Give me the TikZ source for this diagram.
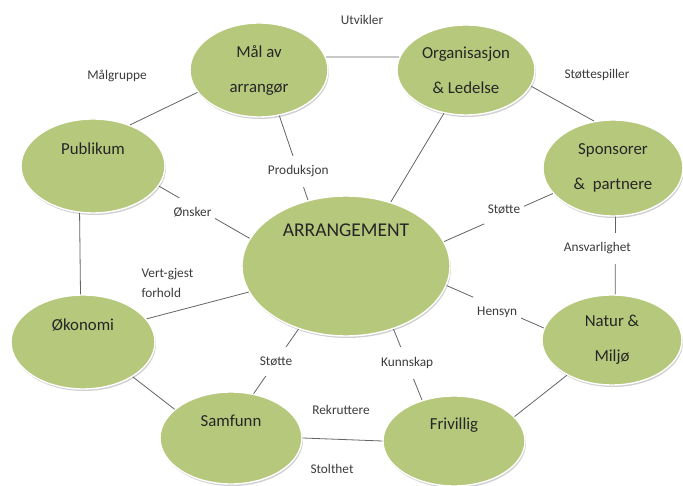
\documentclass[tikz,border=0pt]{standalone}
\usepackage{fontspec}
\setmainfont{Carlito}
\usetikzlibrary{shapes.geometric,shadows}
\definecolor{bubblegreen}{HTML}{B6C87C}
\definecolor{linkgray}{HTML}{646464}
\definecolor{labelgray}{HTML}{3C3C3C}
\tikzset{
    bubble/.style={ellipse, fill=bubblegreen, draw=white, line width=1.4pt,
        drop shadow={shadow xshift=1pt, shadow yshift=-2pt, fill=black!30, opacity=.6},
        align=center, text=black!85, inner sep=0pt,
        font=\fontsize{16.8}{35}\selectfont},
    link/.style={draw=linkgray, line width=.8pt},
    lbl/.style={font=\fontsize{13.3}{20}\selectfont, text=labelgray},
    gap/.style={lbl, fill=white, inner xsep=4pt, inner ysep=10pt}
}
\begin{document}
\begin{tikzpicture}[x=1pt, y=-1pt]
    \path[use as bounding box, fill=white] (0,0) rectangle (683,486);

    \node[bubble, minimum width=208pt, minimum height=140pt,
        font=\fontsize{19.5}{36}\selectfont] (arr) at (346,266) {ARRANGEMENT\\~\\~};
    \node[bubble, minimum width=138pt, minimum height=94pt] (maal) at (259,70) {Mål av\\arrangør};
    \node[bubble, minimum width=138pt, minimum height=90pt] (org) at (466,70) {Organisasjon\\\& Ledelse};
    \node[bubble, minimum width=144pt, minimum height=94pt] (publikum) at (93,166) {Publikum\\~};
    \node[bubble, minimum width=140pt, minimum height=96pt] (sponsor) at (613,168) {Sponsorer\\\&\ \ partnere};
    \node[bubble, minimum width=140pt, minimum height=90pt] (natur) at (612,340) {Natur \&\\Miljø};
    \node[bubble, minimum width=144pt, minimum height=94pt] (okonomi) at (83,342) {Økonomi\\~};
    \node[bubble, minimum width=142pt, minimum height=92pt] (samfunn) at (231,438) {Samfunn\\~};
    \node[bubble, minimum width=142pt, minimum height=90pt] (frivillig) at (454,441) {Frivillig\\~};

    \foreach \a/\b in {maal.11/org.169, publikum.48/maal.200, org.-14/sponsor.112,
        org.243/arr.55, publikum.-106/okonomi.93, okonomi.20/arr.195,
        okonomi.-35/samfunn.153, samfunn.east/frivillig.west, frivillig.22/natur.218}
        \draw[link] (\a) -- (\b);

    \draw[link] (maal.-66) -- node[gap, pos=.66] (produksjon) {Produksjon} (arr.120);
    \draw[link] (publikum.-17) -- node[gap, pos=.37, yshift=-7pt] (onsker) {Ønsker} (arr.164);
    \draw[link] (arr.14) -- node[gap, pos=.55, yshift=6pt] (stotteA) {Støtte} (sponsor.203);
    \draw[link] (sponsor.-87) -- node[gap, pos=.5, xshift=-18pt, yshift=7pt] (ansvar) {Ansvarlighet} (natur.86);
    \draw[link] (arr.-11) -- node[gap, pos=.52, yshift=-5pt] (hensyn) {Hensyn} (natur.170);
    \draw[link] (frivillig.128) -- node[gap, pos=.52] (kunnskap) {Kunnskap} (arr.-53);
    \draw[link] (samfunn.63) -- node[gap, pos=.5] (stotteB) {Støtte} (arr.233);

    \node[lbl] (utvikler) at (362,20) {Utvikler};
    \node[lbl] (malgruppe) at (117,76) {Målgruppe};
    \node[lbl] (stottespiller) at (597,75) {Støttespiller};
    \node[lbl, align=left, anchor=west] (vertgjest) at (138,283) {Vert-gjest\\forhold};
    \node[lbl] (rekruttere) at (341,410) {Rekruttere};
    \node[lbl] (stolthet) at (332,469) {Stolthet};
\end{tikzpicture}
\end{document}
